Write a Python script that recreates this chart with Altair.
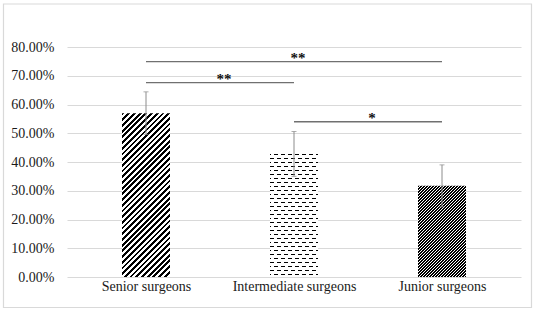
import math
import altair as alt
import pandas as pd

# ---- data ----
categories = ["Senior surgeons", "Intermediate surgeons", "Junior surgeons"]
values = [0.570, 0.428, 0.317]
errors = [0.074, 0.078, 0.073]

sig_from = [0, 0, 1]
sig_to = [2, 1, 2]
sig_y = [0.749, 0.676, 0.540]
sig_labels = ["**", "**", "*"]

y_ticks = [0.0, 0.1, 0.2, 0.3, 0.4, 0.5, 0.6, 0.7, 0.8]

# ---- layout / style ----
PAD_L, PAD_T = 67, 47
PLOT_W, PLOT_H = 454, 230
YMAX = 0.8
BAR_W = 48
FONT = "'Liberation Serif', 'Times New Roman', Times, serif"
GRID = "#d9d9d9"
ERR = "#8c8c8c"
SIGC = "#707070"
TXT = "#1a1a1a"


def stripe_gradient(w, h, a, b, period, on, on_color, off_color, phase=0.0):
    """Linear gradient (bbox units) producing hard stripes of f = a*px + b*py."""
    corners = [a * x + b * y for x in (0, w) for y in (0, h)]
    fmin, fmax = min(corners), max(corners)
    span = fmax - fmin
    gx, gy = a * w, b * h
    g2 = gx * gx + gy * gy
    x1, y1 = gx * fmin / g2, gy * fmin / g2
    x2, y2 = x1 + gx * span / g2, y1 + gy * span / g2
    stops = []
    k = math.floor((fmin - phase) / period) - 1
    f = phase + k * period
    while f < fmax + period:
        segs = [(f, f + on * period, on_color), (f + on * period, f + period, off_color)]
        for fa, fb, col in segs:
            oa = min(max((fa - fmin) / span, 0.0), 1.0)
            ob = min(max((fb - fmin) / span, 0.0), 1.0)
            if ob > oa:
                stops.append({"offset": round(oa, 6), "color": col})
                stops.append({"offset": round(ob, 6), "color": col})
        f += period
    return {"gradient": "linear", "x1": x1, "y1": y1, "x2": x2, "y2": y2, "stops": stops}


def bar_h(v):
    return v / YMAX * PLOT_H


df = pd.DataFrame({
    "idx": list(range(len(categories))),
    "cat": categories,
    "value": values,
    "lo": [v - e for v, e in zip(values, errors)],
    "hi": [v + e for v, e in zip(values, errors)],
})

sig = pd.DataFrame({
    "idx": sig_from,
    "x2": sig_to,
    "xm": [(a + b) / 2 for a, b in zip(sig_from, sig_to)],
    "value": sig_y,
    "label": sig_labels,
})

label_expr = "[" + ",".join("'" + c + "'" for c in categories) + "][datum.value]"

X_AXIS = alt.Axis(
    values=list(range(len(categories))), labelExpr=label_expr, title=None,
    grid=False, domain=False, ticks=False, labelPadding=13,
    labelBaseline="alphabetic", labelFont=FONT, labelFontSize=14,
    labelColor=TXT, labelOverlap=False,
)
Y_AXIS = alt.Axis(
    values=y_ticks, format=".2%", title=None, grid=True, gridColor=GRID,
    gridWidth=1, domain=False, ticks=False, labelPadding=13,
    labelFont=FONT, labelFontSize=14, labelColor=TXT, labelOverlap=False,
)
X_SCALE = alt.Scale(domain=[-0.5, len(categories) - 0.5], nice=False, zero=False)
Y_SCALE = alt.Scale(domain=[0, YMAX], nice=False)


def xq(field):
    return alt.X(field + ":Q", scale=X_SCALE, axis=X_AXIS)


def yq(field):
    return alt.Y(field + ":Q", scale=Y_SCALE, axis=Y_AXIS)


base = alt.Chart(df)

# pixel-aligned phase for the horizontal dash rows of the middle bar
h_mid = bar_h(values[1])
top_abs = PAD_T + PLOT_H - h_mid
row_phase = math.ceil(top_abs) - top_abs

fills = [
    stripe_gradient(BAR_W, bar_h(values[0]), 1, 1, 5.7, 0.5, "#000000", "#ffffff"),
    stripe_gradient(BAR_W, h_mid, 0, 1, 4.0, 0.3, "#000000", "#ffffff", phase=row_phase),
    stripe_gradient(BAR_W, bar_h(values[2]), 1, 1, 3.0, 0.5, "#000000", "#ffffff"),
]
overlay = stripe_gradient(BAR_W, h_mid, 1, 0.875, 7.0, 3.0 / 7.0,
                          "#ffffff", "rgba(255,255,255,0)", phase=1.0)

layers = []
for i, g in enumerate(fills):
    layers.append(
        base.transform_filter(alt.datum.idx == i)
        .mark_bar(width=BAR_W, fill=g, strokeWidth=0)
        .encode(x=xq("idx"), y=yq("value"), y2=alt.datum(0))
    )
layers.append(
    base.transform_filter(alt.datum.idx == 1)
    .mark_bar(width=BAR_W, fill=overlay, strokeWidth=0)
    .encode(x=xq("idx"), y=yq("value"), y2=alt.datum(0))
)

err_rule = base.mark_rule(color=ERR, strokeWidth=1).encode(
    x=xq("idx"), y=yq("lo"), y2="hi:Q")
err_cap_hi = base.mark_tick(color=ERR, orient="horizontal", size=5, thickness=1).encode(
    x=xq("idx"), y=yq("hi"))
err_cap_lo = base.mark_tick(color=ERR, orient="horizontal", size=5, thickness=1).encode(
    x=xq("idx"), y=yq("lo"))

sig_rules = alt.Chart(sig).mark_rule(color=SIGC, strokeWidth=1.4).encode(
    x=xq("idx"), x2="x2:Q", y=yq("value")
)
sig_text = alt.Chart(sig).mark_text(
    font=FONT, fontSize=15, fontWeight="bold", color="#111111",
    baseline="alphabetic", dx=4, dy=1
).encode(x=xq("xm"), y=yq("value"), text="label:N")

border = alt.Chart(pd.DataFrame({"a": [0]})).mark_rect(
    fillOpacity=0, stroke=GRID, strokeWidth=1.2
).encode(
    x=alt.value(-63.5), x2=alt.value(464.5), y=alt.value(-43), y2=alt.value(260.5)
)

chart = alt.layer(
    *layers, err_rule, err_cap_hi, err_cap_lo, sig_rules, sig_text, border
).properties(
    width=PLOT_W, height=PLOT_H,
    autosize=alt.AutoSizeParams(type="none"),
    padding={"left": PAD_L, "top": PAD_T, "right": 15, "bottom": 35},
    background="white",
).configure_view(stroke=None)

chart.save("out.html", embed_options={"renderer": "svg", "actions": False})
